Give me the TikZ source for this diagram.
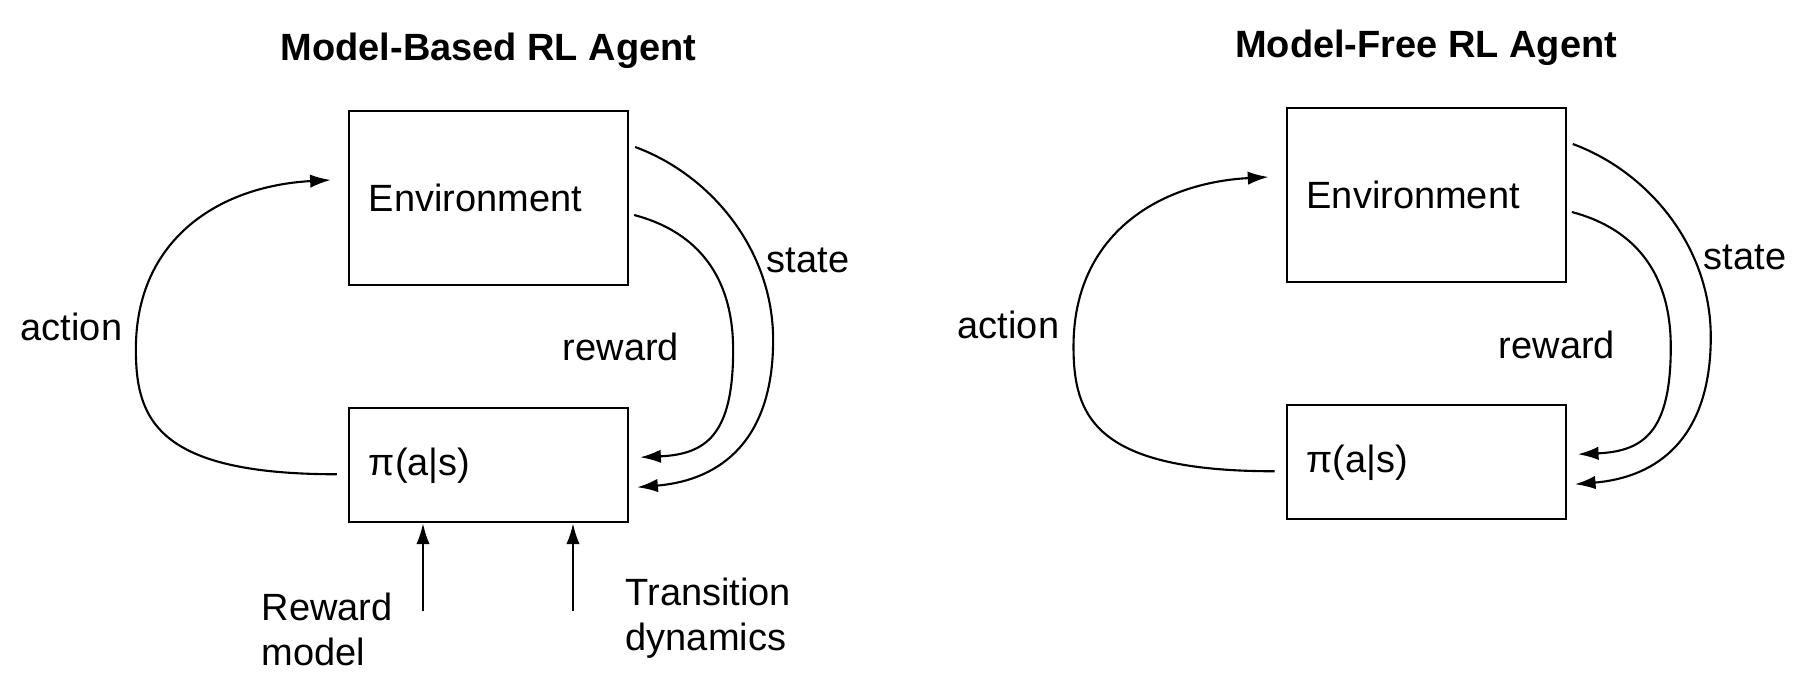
\documentclass[tikz,border=0pt]{standalone}
\usepackage{fontspec}
\setmainfont{Liberation Sans}
\usetikzlibrary{arrows.meta}
\usetikzlibrary{positioning}
\tikzset{
    box/.style={
           rectangle,
           draw=black, line width=0.6pt,
           minimum width=2.79cm,
           minimum height=1.74cm,
           text width=2.39cm,
           inner xsep=0.2cm,
           align=left,
           },
}
\tikzset{
    lbl/.style={
           inner sep=0pt,
           align=left,
           },
}
\tikzset{
    ttl/.style={
           inner sep=0pt,
           font=\fontsize{10.8}{12.6}\selectfont\bfseries,
           },
}
\tikzset{
    flow/.style={
           line width=0.6pt,
           -{Latex[length=5.9pt,width=3.8pt]},
           },
}

\begin{document}
\begin{tikzpicture}[x=0.01cm,y=-0.01cm,font=\fontsize{10.8}{12.8}\selectfont]
\useasboundingbox (0,0) rectangle (1808,694);
% model-based agent
\node[box](envMB) at (488.5,198){Environment};
\node[box,minimum height=1.14cm,below = 1.21cm of envMB](piMB){π(a|s)};
\node[ttl,above = 0.41cm of envMB](ttlMB){Model-Based RL Agent};
\node[lbl](actMB) at (71.5,327){action};
\node[lbl](rewMB) at (621,347){reward};
\node[lbl](staMB) at (808,260){state};
\node[lbl,anchor=west](rmlMB) at (261,629){Reward\\model};
\node[lbl,anchor=west](tdlMB) at (625,618){Transition\\dynamics};
\coordinate (rmMB) at ([shift={(-65.5,88)}]piMB.south);
\coordinate (tdMB) at ([shift={(84.5,88)}]piMB.south);
\draw[flow] ([shift={(-11,9)}]piMB.west) .. controls +(-180,0) and +(0,70) .. ([shift={(-212,-116)}]piMB.west) .. controls +(0,-110) and +(-112,6) .. ([shift={(-17,-18)}]envMB.west);
\draw[flow] ([shift={(6,-51)}]envMB.east) .. controls +(76,28) and +(0,-90) .. ([shift={(144,142)}]envMB.east) .. controls +(0,100) and +(84,-7) .. ([shift={(8,22)}]piMB.east);
\draw[flow] ([shift={(5,17)}]envMB.east) .. controls +(57,15) and +(0,-80) .. ([shift={(104,152)}]envMB.east) .. controls +(0,85) and +(66,-3) .. ([shift={(11,-8)}]piMB.east);
\draw[flow] (rmMB) -- (rmMB |- piMB.south);
\draw[flow] (tdMB) -- (tdMB |- piMB.south);
% model-free agent
\node[box,right = 6.56cm of envMB,yshift=0.03cm](envMF){Environment};
\node[box,minimum height=1.14cm,below = 1.21cm of envMF](piMF){π(a|s)};
\node[ttl,above = 0.41cm of envMF](ttlMF){Model-Free RL Agent};
\node[lbl](actMF) at (1008.5,325){action};
\node[lbl](rewMF) at (1557,345){reward};
\node[lbl](staMF) at (1745,257){state};
\draw[flow] ([shift={(-11,9)}]piMF.west) .. controls +(-180,0) and +(0,70) .. ([shift={(-212,-116)}]piMF.west) .. controls +(0,-110) and +(-112,6) .. ([shift={(-17,-18)}]envMF.west);
\draw[flow] ([shift={(6,-51)}]envMF.east) .. controls +(76,28) and +(0,-90) .. ([shift={(144,142)}]envMF.east) .. controls +(0,100) and +(84,-7) .. ([shift={(8,22)}]piMF.east);
\draw[flow] ([shift={(5,17)}]envMF.east) .. controls +(57,15) and +(0,-80) .. ([shift={(104,152)}]envMF.east) .. controls +(0,85) and +(66,-3) .. ([shift={(11,-8)}]piMF.east);
\end{tikzpicture}
\end{document}
